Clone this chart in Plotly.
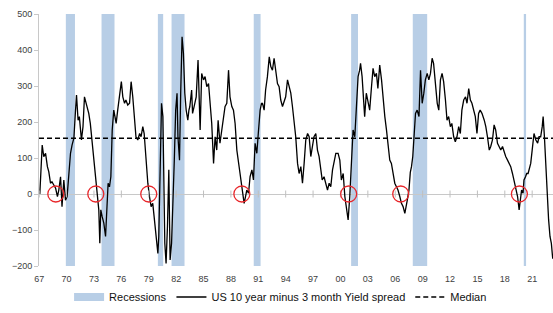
import plotly.graph_objects as go

# ---- data ----
years = [1967.07, 1967.2, 1967.33, 1967.5, 1967.7, 1967.9, 1968.05, 1968.24, 1968.4, 1968.6, 1968.8,
         1969.0, 1969.15, 1969.34, 1969.5, 1969.7, 1969.88, 1970.06, 1970.25, 1970.43, 1970.6, 1970.8,
         1970.98, 1971.09, 1971.26, 1971.4, 1971.63, 1971.8, 1971.96, 1972.25, 1972.43, 1972.6, 1972.8,
         1972.98, 1973.17, 1973.35, 1973.53, 1973.64, 1973.75, 1973.9, 1974.08, 1974.27, 1974.44, 1974.55,
         1974.7, 1974.85, 1975.0, 1975.17, 1975.3, 1975.43, 1975.6, 1975.8, 1976.0, 1976.16, 1976.35,
         1976.5, 1976.7, 1976.9, 1977.07, 1977.25, 1977.44, 1977.6, 1977.8, 1978.0, 1978.16, 1978.35,
         1978.5, 1978.7, 1978.9, 1979.08, 1979.26, 1979.44, 1979.6, 1979.8, 1979.9, 1980.0, 1980.1,
         1980.25, 1980.4, 1980.55, 1980.65, 1980.76, 1980.9, 1981.05, 1981.2, 1981.34, 1981.5, 1981.64,
         1981.8, 1981.95, 1982.1, 1982.2, 1982.37, 1982.5, 1982.65, 1982.8, 1982.95, 1983.1, 1983.28,
         1983.4, 1983.5, 1983.7, 1983.8, 1983.97, 1984.2, 1984.4, 1984.5, 1984.63, 1984.8, 1985.0,
         1985.17, 1985.36, 1985.55, 1985.72, 1985.9, 1986.1, 1986.27, 1986.45, 1986.6, 1986.8, 1987.0,
         1987.2, 1987.36, 1987.55, 1987.74, 1987.9, 1988.1, 1988.28, 1988.46, 1988.65, 1988.83, 1989.0,
         1989.2, 1989.38, 1989.45, 1989.6, 1989.74, 1989.93, 1990.1, 1990.3, 1990.47, 1990.65, 1990.84,
         1991.0, 1991.2, 1991.35, 1991.46, 1991.64, 1991.8, 1992.0, 1992.2, 1992.37, 1992.55, 1992.73,
         1992.9, 1993.1, 1993.28, 1993.46, 1993.65, 1993.83, 1994.0, 1994.2, 1994.37, 1994.56, 1994.74,
         1994.92, 1995.1, 1995.3, 1995.47, 1995.66, 1995.84, 1996.02, 1996.2, 1996.4, 1996.57, 1996.75,
         1996.94, 1997.1, 1997.3, 1997.48, 1997.66, 1997.85, 1998.0, 1998.2, 1998.4, 1998.58, 1998.76,
         1998.94, 1999.13, 1999.3, 1999.49, 1999.74, 1999.93, 2000.1, 2000.3, 2000.48, 2000.66, 2000.84,
         2001.02, 2001.2, 2001.38, 2001.57, 2001.75, 2001.93, 2002.1, 2002.2, 2002.37, 2002.5, 2002.65,
         2002.83, 2003.0, 2003.2, 2003.4, 2003.57, 2003.75, 2003.94, 2004.1, 2004.3, 2004.5, 2004.67,
         2004.86, 2005.04, 2005.22, 2005.4, 2005.58, 2005.77, 2005.95, 2006.13, 2006.3, 2006.5, 2006.68,
         2006.86, 2007.05, 2007.3, 2007.5, 2007.65, 2007.78, 2007.92, 2008.07, 2008.22, 2008.4, 2008.6,
         2008.77, 2008.95, 2009.13, 2009.3, 2009.5, 2009.68, 2009.86, 2010.04, 2010.2, 2010.4, 2010.6,
         2010.77, 2010.95, 2011.13, 2011.3, 2011.5, 2011.67, 2011.85, 2012.04, 2012.2, 2012.4, 2012.58,
         2012.76, 2012.95, 2013.13, 2013.3, 2013.5, 2013.7, 2013.86, 2014.05, 2014.23, 2014.4, 2014.6,
         2014.77, 2014.95, 2015.13, 2015.3, 2015.5, 2015.75, 2015.92, 2016.1, 2016.3, 2016.46, 2016.65,
         2016.83, 2017.0, 2017.2, 2017.38, 2017.56, 2017.75, 2017.93, 2018.1, 2018.3, 2018.47, 2018.65,
         2018.84, 2019.0, 2019.2, 2019.4, 2019.57, 2019.68, 2019.84, 2020.0, 2020.1, 2020.27, 2020.4,
         2020.55, 2020.7, 2020.84, 2021.0, 2021.2, 2021.4, 2021.6, 2021.75, 2021.93, 2022.1, 2022.2,
         2022.34, 2022.5, 2022.6, 2022.7, 2022.8, 2022.95, 2023.1, 2023.25]

spread_bp = [0, 60, 136, 104, 113, 76, 62, 30, 34, 25, 16,
             -7, 11, 48, -35, 39, -17, -7, 67, 113, 136, 155,
             233, 275, 205, 215, 150, 187, 270, 243, 224, 196, 141,
             94, 48, 2, -44, -137, -44, -63, -81, -118, -44, 30,
             20, 48, 178, 233, 215, 196, 233, 280, 312, 270, 252,
             261, 247, 252, 312, 270, 205, 159, 150, 168, 159, 187,
             168, 94, 30, -7, -35, -26, -63, -118, -137, -165, -118,
             94, 252, 215, 48, -137, -193, -91, 67, -183, -137, -44,
             94, 233, 280, 159, 94, 280, 437, 391, 280, 233, 205,
             233, 243, 289, 224, 243, 270, 372, 280, 178, 335, 317,
             326, 298, 307, 252, 196, 85, 159, 122, 205, 141, 178,
             215, 243, 252, 344, 270, 243, 233, 196, 122, 94, 57,
             20, -17, -26, -7, 11, 2, 48, 67, 39, 141, 113,
             168, 233, 252, 252, 233, 289, 326, 381, 354, 344, 377,
             344, 307, 298, 261, 243, 261, 270, 317, 298, 280, 243,
             205, 159, 85, 57, 76, 30, 85, 150, 168, 159, 104,
             141, 159, 168, 122, 104, 67, 39, 48, 30, 11, 30,
             20, 67, 94, 113, 113, 94, 39, 57, -7, -44, -72,
             -7, 85, 178, 159, 233, 326, 344, 363, 326, 280, 215,
             280, 261, 233, 298, 349, 326, 335, 293, 358, 317, 261,
             215, 178, 141, 94, 85, 57, 30, 20, 11, -7, -26,
             -35, -54, -20, 10, 60, 76, 104, 159, 224, 233, 215,
             344, 252, 280, 317, 335, 317, 335, 377, 363, 307, 252,
             233, 317, 335, 312, 261, 205, 215, 187, 196, 159, 145,
             159, 187, 168, 233, 261, 270, 252, 293, 261, 252, 233,
             215, 168, 224, 233, 224, 205, 187, 159, 122, 132, 150,
             192, 178, 141, 132, 122, 132, 113, 104, 94, 85, 76,
             57, 39, 20, -7, -44, -17, 11, 2, 39, 48, 57,
             57, 76, 85, 122, 168, 150, 141, 159, 159, 187, 215,
             159, 85, 11, -44, -72, -118, -137, -180]

median_bp = 155

recession_start = [1969.92, 1973.83, 1980.0, 1981.5, 1990.5, 2001.17, 2007.92, 2020.08]
recession_end = [1970.92, 1975.25, 1980.58, 1982.92, 1991.25, 2001.92, 2009.5, 2020.33]

circle_years = [1968.82, 1973.2, 1979.0, 1989.2, 2000.9, 2006.6, 2019.6]
circle_values = [0, 0, 0, 0, 0, 0, 0]

tick_years = list(range(1967, 2022, 3))
tick_labels = ["%02d" % (y % 100) for y in tick_years]

x_range = [1966.98, 2023.28]
y_range = [-200, 500]

BAND = "#b8cee6"
FONT = "Liberation Sans, Arial, sans-serif"

fig = go.Figure()

for s, e in zip(recession_start, recession_end):
    fig.add_vrect(x0=s, x1=e, fillcolor=BAND, line_width=0, layer="below", opacity=1)

# legend entry for recessions
fig.add_trace(go.Scatter(x=[None], y=[None], mode="lines", name="Recessions",
                         line=dict(color=BAND, width=8)))

fig.add_trace(go.Scatter(x=years, y=spread_bp, mode="lines",
                         name="US 10 year minus 3 month Yield spread",
                         line=dict(color="black", width=1.3)))

fig.add_trace(go.Scatter(x=x_range, y=[median_bp, median_bp], mode="lines", name="Median",
                         line=dict(color="black", width=1.5, dash="5px,3px")))

# small tick marks on the zero line
fig.add_trace(go.Scatter(x=tick_years, y=[0] * len(tick_years), mode="markers", showlegend=False,
                         marker=dict(symbol="line-ns-open", size=5, color="#bfbfbf",
                                     line=dict(width=1, color="#bfbfbf")),
                         hoverinfo="skip"))

fig.add_trace(go.Scatter(x=circle_years, y=circle_values, mode="markers", showlegend=False,
                         marker=dict(symbol="circle-open", size=16, color="#e8262a",
                                     line=dict(width=1.3, color="#e8262a"))))

fig.update_layout(
    width=553, height=313,
    margin=dict(l=39, r=0, t=14, b=47, autoexpand=False),
    paper_bgcolor="white", plot_bgcolor="white",
    font=dict(family=FONT, color="#222222"),
    showlegend=True,
    legend=dict(orientation="h", x=0.47, xanchor="center", y=-0.123, yanchor="middle",
                font=dict(size=11, family=FONT, color="#111111"),
                bgcolor="rgba(0,0,0,0)", itemwidth=30),
)
fig.update_xaxes(range=x_range, tickmode="array", tickvals=tick_years, ticktext=tick_labels,
                 showgrid=False, zeroline=False, showline=False, ticks="",
                 tickfont=dict(size=9, color="#404040"), ticklabelstandoff=6)
fig.update_yaxes(range=y_range, dtick=100, tick0=0, showgrid=False,
                 zeroline=True, zerolinecolor="#c8c8c8", zerolinewidth=1,
                 showline=True, linecolor="#c8c8c8", linewidth=1,
                 ticks="outside", ticklen=4, tickcolor="#c8c8c8",
                 tickfont=dict(size=9, color="#404040"))

fig.write_html("out.html", config={"displayModeBar": False},
               post_script="document.body.style.margin='0px';")
